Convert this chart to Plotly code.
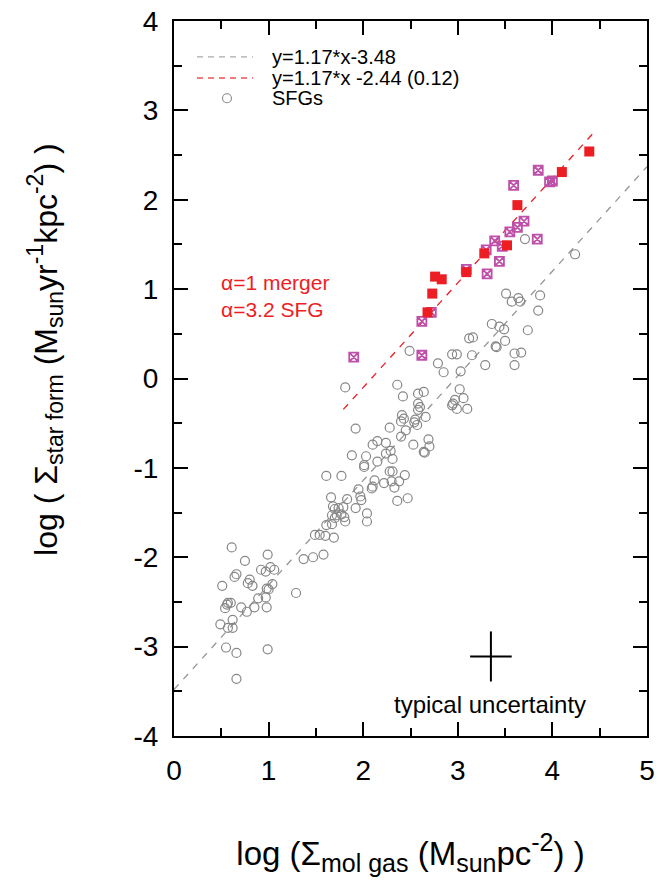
import plotly.graph_objects as go

# ---------------- data ----------------
sfg_x = [0.61, 0.75, 0.99, 0.92, 0.97, 1.02, 1.06, 0.64, 0.66, 0.80, 0.78, 0.83, 0.51, 1.04,
         0.98, 1.00, 1.29, 0.89, 0.97, 0.57, 0.60, 0.56, 0.54, 0.71, 0.85, 0.98, 0.77, 0.62,
         0.49, 0.57, 0.62, 0.55, 0.66, 0.99, 0.66, 1.49, 1.54, 1.60, 1.37, 1.47, 1.58,
         1.92, 2.28, 2.41, 2.43, 2.40, 2.45, 2.40, 2.10, 2.15, 2.24, 2.29, 2.24, 1.88, 2.03,
         2.31, 2.15, 2.01, 2.01, 2.28, 2.31, 2.44, 1.61, 1.77, 2.12, 2.22, 2.30, 2.38, 2.10,
         2.09, 2.33, 1.95, 1.97, 1.98, 1.66, 1.83, 2.36, 2.47, 1.92, 1.68, 1.70, 1.74, 1.79,
         1.67, 1.72, 1.77, 1.80, 1.70, 2.04, 2.04, 1.81, 1.61, 1.67, 1.69,
         2.49, 3.12, 3.16, 2.94, 2.99, 3.15, 2.79, 2.85, 3.03, 3.29, 2.36, 2.42, 2.58, 2.64,
         3.02, 3.06, 2.97, 2.95, 2.94, 2.99, 3.10, 2.58, 2.60, 2.58, 2.55, 2.57, 2.54, 2.66,
         2.69, 2.70, 2.64, 2.65, 2.53, 1.81,
         3.71, 4.24, 3.51, 3.64, 3.57, 3.66, 3.87, 3.85, 3.36, 3.44, 3.49, 3.74, 3.50, 3.40,
         3.41, 3.60, 3.67, 3.60]
sfg_y = [-1.89, -2.04, -1.97, -2.14, -2.16, -2.11, -2.14, -2.22, -2.19, -2.25, -2.29, -2.32, -2.32, -2.30,
         -2.35, -2.36, -2.40, -2.46, -2.45, -2.51, -2.51, -2.53, -2.57, -2.56, -2.56, -2.56, -2.61, -2.70,
         -2.75, -2.79, -2.79, -3.01, -3.07, -3.03, -3.36, -1.75, -1.75, -1.76, -2.02, -2.00, -1.97,
         -0.56, -0.55, -0.41, -0.45, -0.48, -0.58, -0.65, -0.74, -0.70, -0.72, -0.81, -0.84, -0.86, -0.87,
         -0.90, -0.93, -0.97, -0.99, -1.04, -1.04, -1.08, -1.09, -1.09, -1.14, -1.17, -1.15, -1.15, -1.21,
         -1.23, -1.22, -1.24, -1.32, -1.36, -1.33, -1.35, -1.37, -1.34, -1.45, -1.43, -1.46, -1.45, -1.44,
         -1.53, -1.53, -1.52, -1.55, -1.56, -1.51, -1.60, -1.60, -1.64, -1.63, -1.78,
         0.31, 0.45, 0.46, 0.27, 0.27, 0.26, 0.17, 0.07, 0.08, 0.15, -0.07, -0.20, -0.17, -0.15,
         -0.12, -0.22, -0.24, -0.28, -0.30, -0.34, -0.34, -0.28, -0.32, -0.35, -0.46, -0.52, -0.49, -0.43,
         -0.68, -0.76, -0.82, -0.83, -0.74, -0.10,
         1.56, 1.39, 0.95, 0.90, 0.86, 0.86, 0.93, 0.76, 0.61, 0.58, 0.55, 0.54, 0.42, 0.36,
         0.35, 0.28, 0.29, 0.15]

merger_x = [4.39, 4.10, 3.63, 3.52, 3.28, 3.09, 2.76, 2.83, 2.73, 2.68]
merger_y = [2.54, 2.31, 1.94, 1.49, 1.40, 1.19, 1.14, 1.11, 0.95, 0.74]

sfg_hi_x = [3.85, 3.97, 4.00, 3.59, 3.70, 3.63, 3.55, 3.39, 3.47, 3.84, 3.30, 3.44, 3.09, 3.31,
            2.72, 2.62, 1.90, 2.62]
sfg_hi_y = [2.33, 2.20, 2.21, 2.16, 1.76, 1.69, 1.64, 1.54, 1.48, 1.56, 1.44, 1.31, 1.22, 1.17,
            0.74, 0.64, 0.24, 0.26]

# fit relations (from the legend)
slope = 1.17
icpt_sfg = -3.48
icpt_merger = -2.44
sfg_line_x = [0.0, 5.0]
merger_line_x = [1.79, 4.46]

# typical uncertainty cross
unc_x, unc_y = [3.35], [-3.11]
unc_dx, unc_dy = 0.22, 0.28

x_ticks = [0, 1, 2, 3, 4, 5]
y_ticks = [-4, -3, -2, -1, 0, 1, 2, 3, 4]
y_ticktext = [str(v) for v in y_ticks]

legend_labels = ["y=1.17*x-3.48", "y=1.17*x -2.44 (0.12)", "SFGs"]

FONT = "Liberation Sans, Arial, Helvetica, sans-serif"
GRAY = "rgb(135,135,135)"
LGRAY = "rgb(150,150,150)"
RED = "rgb(236,30,36)"
PURPLE = "rgb(190,80,170)"

fig = go.Figure()

fig.add_trace(go.Scatter(
    x=sfg_line_x, y=[slope * v + icpt_sfg for v in sfg_line_x], mode="lines",
    line=dict(color=LGRAY, width=1.3, dash="7px,7px"),
    name=legend_labels[0], showlegend=False))
fig.add_trace(go.Scatter(
    x=merger_line_x, y=[slope * v + icpt_merger for v in merger_line_x], mode="lines",
    line=dict(color=RED, width=1.3, dash="7px,7px"),
    name=legend_labels[1], showlegend=False))
fig.add_trace(go.Scatter(
    x=sfg_x, y=sfg_y, mode="markers", name=legend_labels[2], showlegend=False,
    marker=dict(symbol="circle-open", size=9, color=GRAY, line=dict(width=1.2, color=GRAY))))
fig.add_trace(go.Scatter(
    x=sfg_hi_x, y=sfg_hi_y, mode="markers", showlegend=False, name="SFGs (high)",
    marker=dict(symbol="square-x-open", size=9, color=PURPLE, line=dict(width=1.8, color=PURPLE))))
fig.add_trace(go.Scatter(
    x=merger_x, y=merger_y, mode="markers", showlegend=False, name="mergers",
    marker=dict(symbol="square", size=10, color=RED, line=dict(width=0))))
fig.add_trace(go.Scatter(
    x=unc_x, y=unc_y, mode="markers", showlegend=False, name="typical uncertainty",
    marker=dict(size=1, color="rgba(0,0,0,0)"),
    error_x=dict(type="constant", value=unc_dx, width=0, thickness=2, color="black"),
    error_y=dict(type="constant", value=unc_dy, width=0, thickness=2, color="black")))

# ---- key (top-left, inside the frame) ----
key_rows_y = [0.9497, 0.9203, 0.892]
key_line_x0, key_line_x1 = 0.0486, 0.167
key_text_x = 0.203
fig.add_shape(type="line", xref="paper", yref="paper", x0=key_line_x0, x1=key_line_x1,
              y0=key_rows_y[0], y1=key_rows_y[0], line=dict(color="rgb(170,170,170)", width=1.3, dash="6px,5px"))
fig.add_shape(type="line", xref="paper", yref="paper", x0=key_line_x0, x1=key_line_x1,
              y0=key_rows_y[1], y1=key_rows_y[1], line=dict(color="rgb(240,80,80)", width=1.3, dash="6px,5px"))
fig.add_shape(type="circle", xref="paper", yref="paper", x0=0.112 - 0.0095, x1=0.112 + 0.0095,
              y0=key_rows_y[2] - 0.0063, y1=key_rows_y[2] + 0.0063, line=dict(color=GRAY, width=1.1))
for lab, yy in zip(legend_labels, key_rows_y):
    fig.add_annotation(x=key_text_x, y=yy, xref="paper", yref="paper", text=lab, showarrow=False,
                       xanchor="left", yanchor="middle", font=dict(family=FONT, size=20, color="black"))

fig.add_annotation(x=0.476, y=1.07, xref="x", yref="y", text="α=1 merger", showarrow=False,
                   xanchor="left", yanchor="middle", font=dict(family=FONT, size=21, color=RED))
fig.add_annotation(x=0.476, y=0.77, xref="x", yref="y", text="α=3.2 SFG", showarrow=False,
                   xanchor="left", yanchor="middle", font=dict(family=FONT, size=21, color=RED))
fig.add_annotation(x=3.34, y=-3.65, xref="x", yref="y", text="typical uncertainty", showarrow=False,
                   xanchor="center", yanchor="middle", font=dict(family=FONT, size=24, color="black"))

# y-axis title (placed explicitly so it is centred like the reference)
fig.add_annotation(
    x=-0.2727, y=0.54, xref="paper", yref="paper", textangle=-90, showarrow=False,
    xanchor="center", yanchor="middle",
    text=("log ( Σ<sub><span style='font-size:23px'>star form</span></sub> "
          "(M<sub><span style='font-size:23px'>sun</span></sub>yr<sup><span style='font-size:23px'>-1</span></sup>"
          "kpc<sup><span style='font-size:23px'>-2</span></sup>) )"),
    font=dict(family=FONT, size=32, color="black"))

axis_common = dict(
    showgrid=False, zeroline=False, showline=True, linewidth=2, linecolor="black",
    mirror="allticks", ticks="inside", ticklen=14, tickwidth=1.5, tickcolor="black",
    tickfont=dict(family=FONT, size=28, color="black"), ticklabeloverflow="allow",
)

fig.update_xaxes(range=[0, 5], tickmode="array", tickvals=x_ticks, ticktext=[str(v) for v in x_ticks],
                 minor=dict(ticks="inside", ticklen=8, tickwidth=1.5, tickcolor="black", dtick=0.5, tick0=0),
                 title=dict(text=("log (Σ<sub><span style='font-size:25px'>mol gas</span></sub> "
                                  "(M<sub><span style='font-size:25px'>sun</span></sub>pc"
                                  "<sup><span style='font-size:25px'>-2</span></sup>) )"),
                            font=dict(family=FONT, size=33, color="black"), standoff=57),
                 ticklabelstandoff=8,
                 **axis_common)
fig.update_yaxes(range=[-4, 4], tickmode="array", tickvals=y_ticks, ticktext=y_ticktext,
                 minor=dict(ticks="inside", ticklen=8, tickwidth=1.5, tickcolor="black", dtick=0.5, tick0=0),
                 ticklabelstandoff=8,
                 **axis_common)

fig.update_layout(
    width=662, height=887, autosize=False,
    margin=dict(l=174, r=15, t=21, b=151, autoexpand=False),
    paper_bgcolor="white", plot_bgcolor="white",
    font=dict(family=FONT, color="black"),
    showlegend=False,
)

# remove the browser's default 8px body margin so the figure fills the window exactly
fig.write_html("out.html", config={"displayModeBar": False},
               post_script="document.body.style.margin='0';")
